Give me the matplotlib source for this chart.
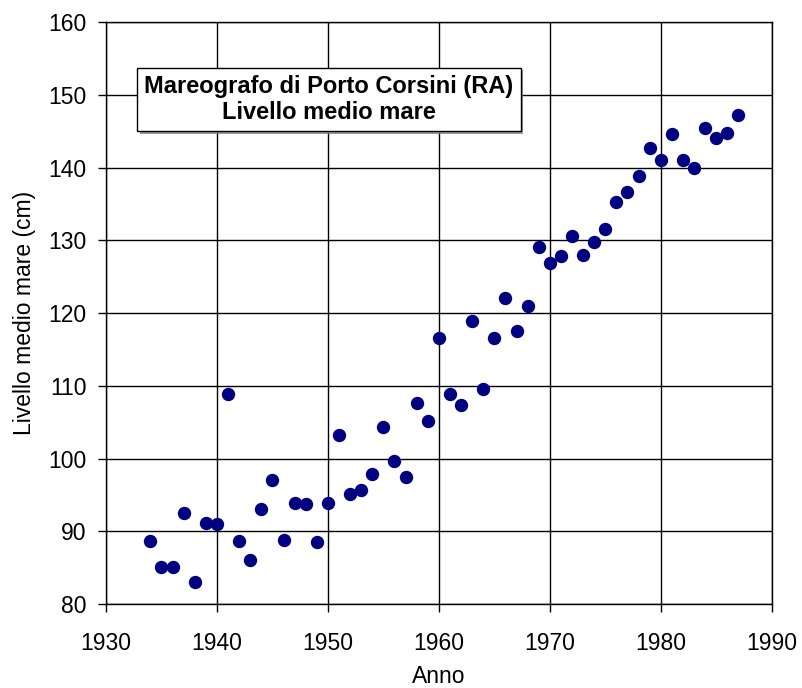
import matplotlib.pyplot as plt
from matplotlib import patheffects

plt.rcParams['font.family'] = ['Liberation Sans', 'DejaVu Sans']

# anni e livello medio mare (cm)
anni = [1934, 1935, 1936, 1937, 1938, 1939, 1940, 1941, 1942, 1943,
        1944, 1945, 1946, 1947, 1948, 1949, 1950, 1951, 1952, 1953,
        1954, 1955, 1956, 1957, 1958, 1959, 1960, 1961, 1962, 1963,
        1964, 1965, 1966, 1967, 1968, 1969, 1970, 1971, 1972, 1973,
        1974, 1975, 1976, 1977, 1978, 1979, 1980, 1981, 1982, 1983,
        1984, 1985, 1986, 1987]
livello = [88.7, 85.1, 85.1, 92.5, 83.1, 91.1, 91.0, 108.9, 88.6, 86.0,
           93.0, 97.0, 88.8, 93.9, 93.7, 88.5, 93.9, 103.2, 95.1, 95.7,
           97.9, 104.4, 99.6, 97.4, 107.7, 105.2, 116.6, 108.9, 107.3, 118.9,
           109.6, 116.6, 122.1, 117.6, 120.9, 129.1, 126.9, 127.8, 130.6, 128.0,
           129.7, 131.6, 135.2, 136.6, 138.9, 142.7, 141.0, 144.6, 141.1, 140.0,
           145.4, 144.0, 144.7, 147.2]

fig = plt.figure(figsize=(8.03, 6.88), dpi=100)
ax = fig.add_axes([0.132, 0.122, 0.829, 0.846])

ax.scatter(anni, livello, s=74, color='#000080', zorder=3)

ax.set_xlim(1930, 1990)
ax.set_ylim(80, 160)
ax.set_xticks(range(1930, 1991, 10))
ax.set_yticks(range(80, 161, 10))
ax.grid(True, color='black', linewidth=1)
ax.set_axisbelow(True)
for s in ax.spines.values():
    s.set_color('black')
    s.set_linewidth(1)
ax.tick_params(labelsize=16.5, length=6, width=1, color='black')
ax.tick_params(axis='x', pad=14)
ax.tick_params(axis='y', pad=8)

ax.set_xlabel('Anno', fontsize=16.5, labelpad=7)
ax.set_ylabel('Livello medio mare (cm)', fontsize=16.5, labelpad=9)

# riquadro del titolo con ombra
t = ax.text(0.335, 0.867, 'Mareografo di Porto Corsini (RA)\nLivello medio mare',
            transform=ax.transAxes, ha='center', va='center', fontsize=17,
            fontweight='bold', linespacing=1.2, zorder=5,
            bbox=dict(boxstyle='square,pad=0.3', facecolor='white',
                      edgecolor='black', linewidth=1))
t.get_bbox_patch().set_path_effects([
    patheffects.SimplePatchShadow(offset=(2, -2), shadow_rgbFace='gray', alpha=0.8),
    patheffects.Normal()])

fig.savefig('out.png', dpi=100)
